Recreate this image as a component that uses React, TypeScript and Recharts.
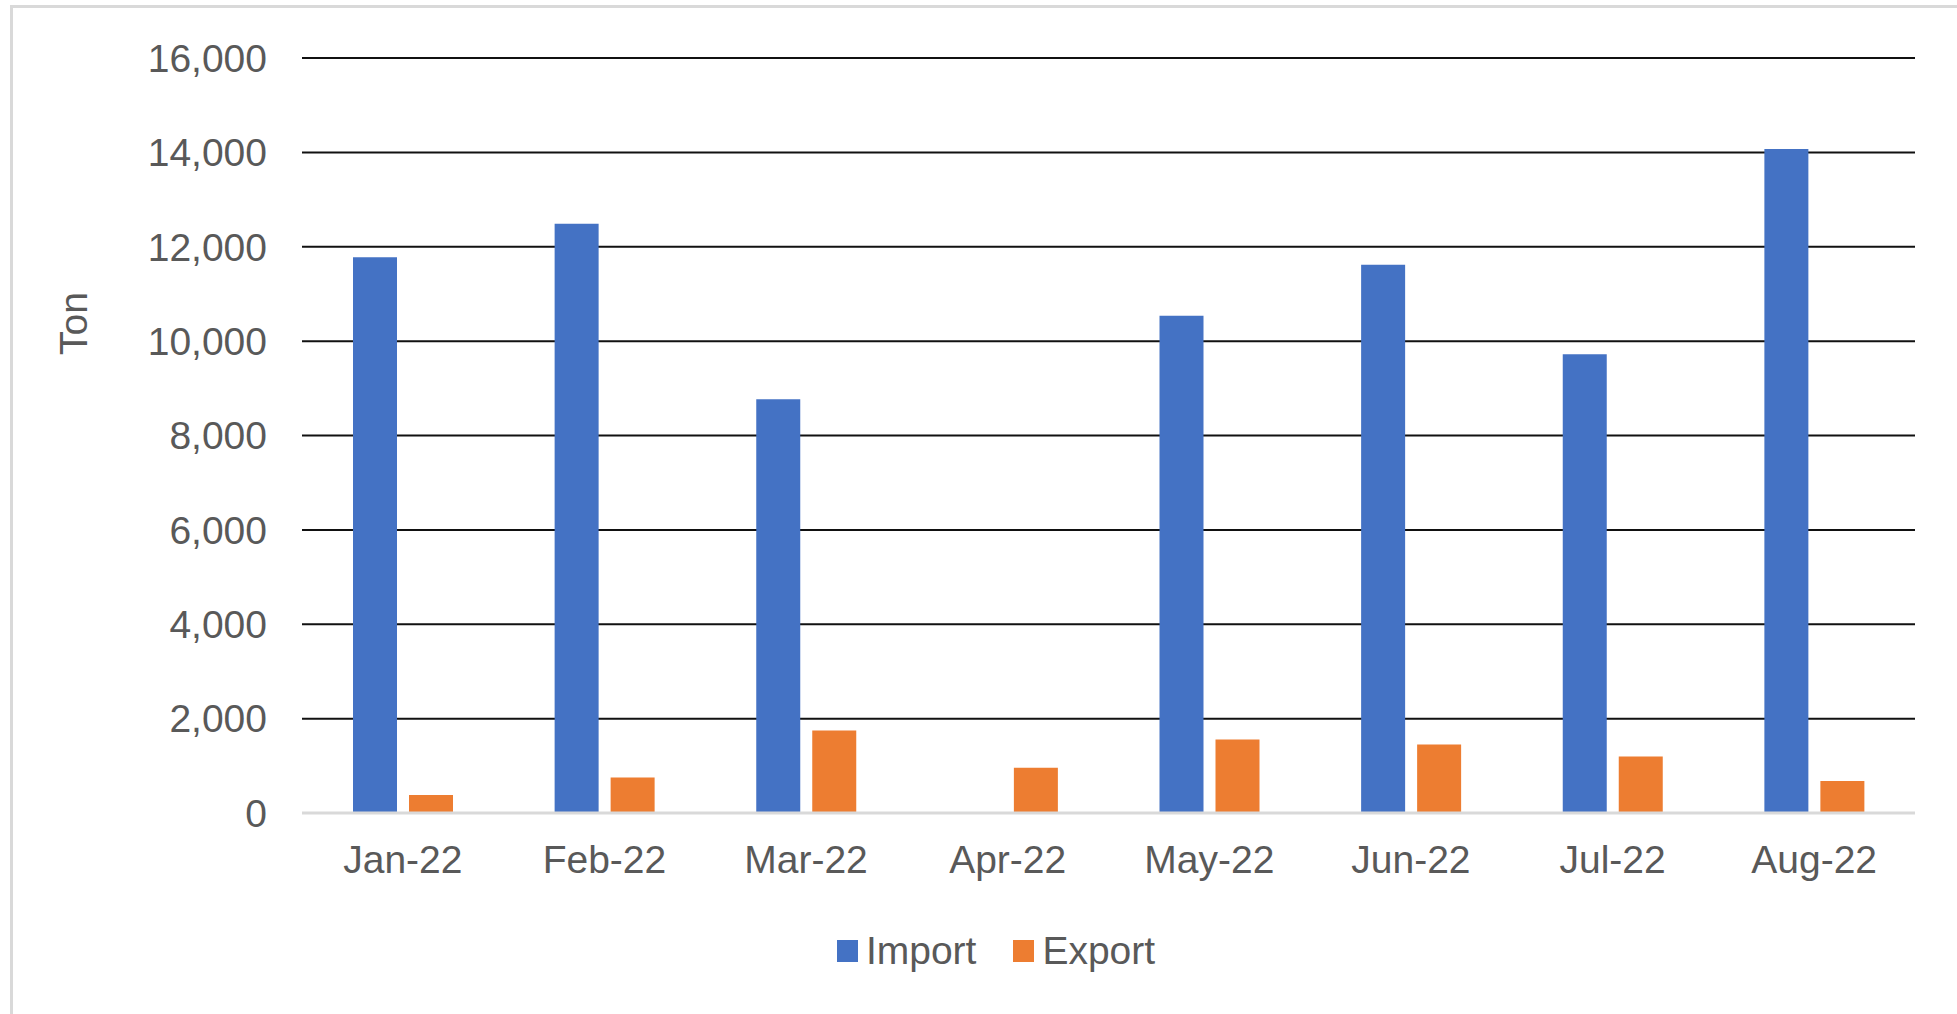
import React from 'react';
import { BarChart, Bar, XAxis, YAxis, CartesianGrid, Legend } from 'recharts';

const months = ['Jan-22', 'Feb-22', 'Mar-22', 'Apr-22', 'May-22', 'Jun-22', 'Jul-22', 'Aug-22'];
const importValues: (number | null)[] = [11780, 12490, 8770, null, 10540, 11620, 9720, 14070];
const exportValues: number[] = [380, 750, 1750, 960, 1560, 1450, 1200, 680];
const yTicks = [0, 2000, 4000, 6000, 8000, 10000, 12000, 14000, 16000];
const seriesOrder = ['Import', 'Export'];

const data = months.map((m, i) => ({ month: m, Import: importValues[i], Export: exportValues[i] }));

const FONT = '"Liberation Sans", Arial, sans-serif';
const TEXT = '#595959';

const fmt = (v: number) => v.toLocaleString('en-US');

const renderLegend = (props: any) => {
  const raw = props.payload || [];
  const payload = seriesOrder
    .map((name) => raw.find((e: any) => e.value === name))
    .filter(Boolean);
  return (
    <div style={{ display: 'flex', justifyContent: 'center', alignItems: 'center', height: 50, paddingLeft: 35, fontFamily: FONT }}>
      {payload.map((entry: any, i: number) => (
        <div key={i} style={{ display: 'flex', alignItems: 'center', marginRight: i === payload.length - 1 ? 0 : 37 }}>
          <div style={{ width: 21, height: 22, background: entry.color, marginRight: 8 }} />
          <span style={{ fontSize: 39, color: TEXT, lineHeight: '50px' }}>{entry.value}</span>
        </div>
      ))}
    </div>
  );
};

const TonLabel = (props: any) => {
  const vb = props.viewBox || { x: 0, y: 0, width: 0, height: 0 };
  const cx = vb.x + 73;
  const cy = vb.y + vb.height / 2 - 112;
  return (
    <text x={cx} y={cy} transform={`rotate(-90, ${cx}, ${cy})`} textAnchor="middle" dominantBaseline="central" fill={TEXT} fontSize={39} fontFamily={FONT}>
      Ton
    </text>
  );
};

export default function App() {
  return (
    <div style={{ position: 'absolute', left: 0, top: 0, width: 1957, height: 1014, overflow: 'hidden', background: '#fff' }}>
      <div style={{ position: 'absolute', left: 10, top: 5, width: 2100, height: 1200, border: '3px solid #d9d9d9', boxSizing: 'border-box' }} />
      <div style={{ position: 'absolute', left: 0, top: 0 }}>
        <BarChart
          width={1957}
          height={1014}
          data={data}
          margin={{ top: 58, right: 42, left: 0, bottom: 71 }}
          barSize={44}
          barGap={12}
        >
          <CartesianGrid horizontal={true} vertical={false} stroke="#111" strokeWidth={2} />
          <XAxis
            dataKey="month"
            interval={0}
            tickLine={false}
            tickSize={0}
            tickMargin={32}
            height={80}
            axisLine={{ stroke: '#d9d9d9', strokeWidth: 3 }}
            tick={{ fill: TEXT, fontSize: 39, fontFamily: FONT }}
          />
          <YAxis
            width={302}
            domain={[0, 16000]}
            ticks={yTicks}
            interval={0}
            tickFormatter={fmt}
            axisLine={false}
            tickLine={false}
            tickSize={0}
            tickMargin={35}
            tick={{ fill: TEXT, fontSize: 39, fontFamily: FONT }}
            label={<TonLabel />}
          />
          <Legend
            verticalAlign="bottom"
            align="center"
            content={renderLegend}
            wrapperStyle={{ top: 926, left: 0, width: 1957, height: 50 }}
          />
          <Bar dataKey="Import" name="Import" fill="#4472C4" isAnimationActive={false} />
          <Bar dataKey="Export" name="Export" fill="#ED7D31" isAnimationActive={false} />
        </BarChart>
      </div>
    </div>
  );
}
